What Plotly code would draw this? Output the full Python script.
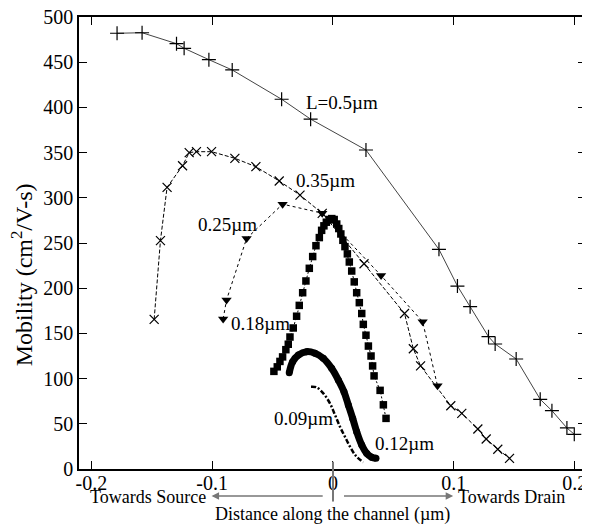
import plotly.graph_objects as go

# ---- data ----
x_05 = [-0.1787, -0.158, -0.1295, -0.1232, -0.1027, -0.0834, -0.0425, -0.0185, 0.0273,
        0.0877, 0.103, 0.1135, 0.1287, 0.1342, 0.1516, 0.1715, 0.1812, 0.1936, 0.1997]
y_05 = [482, 482.6, 470.5, 465.4, 452.8, 441.4, 409, 387, 352.9,
        243, 202.4, 179.6, 146.4, 138.3, 121.7, 77.1, 64.5, 45.4, 38.4]

x_035 = [-0.148, -0.1428, -0.1373, -0.1245, -0.119, -0.113, -0.1005, -0.0812, -0.0638,
         -0.0445, -0.0273, -0.0089, 0.0257, 0.0592, 0.0665, 0.0725, 0.0975, 0.1066,
         0.1199, 0.1268, 0.1364, 0.1461]
y_035 = [165.6, 252.6, 311.6, 335.5, 350, 351, 351, 343.7, 334.4,
         318.6, 303, 282.8, 227, 172, 133, 114, 70, 61.6,
         44.2, 33.2, 21.8, 11.8]

x_025 = [-0.0909, -0.0881, -0.0715, -0.0417, -0.0089, 0.0398, 0.0742, 0.0865]
y_025 = [166, 187, 255, 293, 283, 214, 163, 92]

x_018 = [-0.0489, -0.0461, -0.0439, -0.0417, -0.0390, -0.0370, -0.0356, -0.0329, -0.0301,
         -0.0279, -0.0251, -0.0224, -0.0196, -0.0168, -0.0141, -0.0113, -0.0094, -0.0075,
         -0.0055, -0.0031, -0.0010, 0.0010, 0.0031, 0.0048, 0.0065, 0.0082, 0.0099,
         0.0119, 0.0135, 0.0155, 0.0176, 0.0196, 0.0218, 0.0238, 0.0251, 0.0273,
         0.0293, 0.0315, 0.0328, 0.0340, 0.0390, 0.0417, 0.0439]
y_018 = [108, 113, 119, 124, 132, 138, 146, 156, 169,
         181, 195, 208, 222, 235, 247, 256, 264, 269,
         273, 276, 277, 276, 271, 266, 260, 253, 246,
         238, 229, 219, 207, 195, 184, 172, 160, 148,
         136, 125, 114, 103, 87, 71, 56]

x_012 = [-0.0362, -0.0334, -0.0287, -0.0218, -0.0149, -0.008, -0.0011, 0.0044, 0.0091,
         0.0127, 0.0163, 0.0196, 0.0238, 0.0279, 0.032, 0.0356]
y_012 = [106.5, 118.7, 126, 129.8, 128, 122.4, 111.4, 98.5, 85.5,
         70.8, 56, 41.3, 26.5, 17.3, 13, 11.8]

x_009 = [-0.0182, -0.0135, -0.008, -0.0025, 0.0017, 0.0058, 0.0099, 0.0141, 0.019, 0.0251]
y_009 = [91, 90.3, 83.7, 72.6, 59.7, 46.8, 35.7, 24.7, 14.4, 7.4]

x_ticks = [-0.2, -0.1, 0, 0.1, 0.2]
x_ticktext = ["-0.2", "-0.1", "0", "0.1", "0.2"]
y_ticks = [0, 50, 100, 150, 200, 250, 300, 350, 400, 450, 500]

labels = ["L=0.5µm", "0.35µm", "0.25µm", "0.18µm", "0.09µm", "0.12µm"]
label_x = [0.0075, -0.0066, -0.0874, -0.0602, -0.0243, 0.0588]
label_y = [405, 319, 271, 161, 56, 28.4]

FONT = "Liberation Serif"

fig = go.Figure()
fig.add_trace(go.Scatter(x=x_05, y=y_05, mode="lines+markers",
                         line=dict(color="#444", width=1),
                         marker=dict(symbol="cross-thin", size=10, line=dict(color="black", width=1.2))))
fig.add_trace(go.Scatter(x=x_035, y=y_035, mode="lines+markers",
                         line=dict(color="black", width=1, dash="4px,2px"),
                         marker=dict(symbol="x-thin", size=9, line=dict(color="black", width=1.2))))
fig.add_trace(go.Scatter(x=x_025, y=y_025, mode="lines+markers",
                         line=dict(color="black", width=1, dash="3px,3px"),
                         marker=dict(symbol="triangle-down", size=9, color="black")))
fig.add_trace(go.Scatter(x=x_018, y=y_018, mode="lines+markers",
                         line=dict(color="black", width=1, dash="2px,2px"),
                         marker=dict(symbol="square", size=7.5, color="black")))
fig.add_trace(go.Scatter(x=x_012, y=y_012, mode="lines+markers",
                         line=dict(color="black", width=7, shape="spline"),
                         marker=dict(symbol="circle", size=7, color="black")))
fig.add_trace(go.Scatter(x=x_009, y=y_009, mode="lines",
                         line=dict(color="black", width=2.5, dash="5px,2px,2px,2px", shape="spline")))

for t, lx, ly in zip(labels, label_x, label_y):
    fig.add_annotation(x=lx, y=ly, text=t, showarrow=False, xref="x", yref="y",
                       xanchor="center", yanchor="middle",
                       font=dict(family=FONT, size=19, color="black"))

# bottom direction arrows
fig.add_annotation(x=-0.1005, y=-0.0595, xref="x", yref="paper", ax=-0.0052, ay=0,
                   axref="x", ayref="pixel", showarrow=True, arrowhead=2, arrowsize=1,
                   arrowwidth=1.5, arrowcolor="#777", text=" ")
fig.add_annotation(x=0.0995, y=-0.0595, xref="x", yref="paper", ax=0.0058, ay=0,
                   axref="x", ayref="pixel", showarrow=True, arrowhead=2, arrowsize=1,
                   arrowwidth=1.5, arrowcolor="#777", text=" ")
fig.add_shape(type="line", xref="x", yref="paper", x0=0, x1=0, y0=0.016, y1=-0.072,
              line=dict(color="#777", width=2))
fig.add_annotation(x=-0.1036, y=-0.0613, xref="x", yref="paper", text="Towards Source",
                   showarrow=False, xanchor="right", yanchor="middle",
                   font=dict(family=FONT, size=18, color="black"))
fig.add_annotation(x=0.1019, y=-0.0613, xref="x", yref="paper", text="Towards Drain",
                   showarrow=False, xanchor="left", yanchor="middle",
                   font=dict(family=FONT, size=18, color="black"))
fig.add_annotation(x=0.0, y=-0.1015, xref="x", yref="paper",
                   text="Distance along the channel (µm)", showarrow=False,
                   xanchor="center", yanchor="middle",
                   font=dict(family=FONT, size=18, color="black"))
fig.add_annotation(x=-0.113, y=0.43, xref="paper", yref="paper",
                   text="Mobility (cm<sup>2</sup>/V-s)", textangle=-90, showarrow=False,
                   xanchor="center", yanchor="middle",
                   font=dict(family=FONT, size=24, color="black"))

# the page body has an 8px default margin: figure is sized so it fits the 590x525 window
fig.update_layout(
    width=582, height=517,
    margin=dict(l=71, r=4, t=9, b=56, autoexpand=False),
    paper_bgcolor="white", plot_bgcolor="white",
    showlegend=False,
    font=dict(family=FONT, size=20, color="black"),
    xaxis=dict(range=[-0.2102, 0.2094], tickvals=x_ticks, ticktext=x_ticktext,
               ticks="inside", ticklen=8, tickcolor="black", mirror="ticks",
               showline=True, linecolor="black", linewidth=1.5,
               showgrid=False, zeroline=False, automargin=False,
               ticklabeloverflow="allow", ticklabelstandoff=-5,
               tickfont=dict(family=FONT, size=20, color="black")),
    yaxis=dict(range=[0, 500], tickvals=y_ticks,
               ticks="inside", ticklen=8, tickcolor="black", mirror="ticks",
               showline=True, linecolor="black", linewidth=1.5,
               showgrid=False, zeroline=False, automargin=False,
               ticklabeloverflow="allow",
               tickfont=dict(family=FONT, size=20, color="black")),
)

fig.write_html("out.html")
